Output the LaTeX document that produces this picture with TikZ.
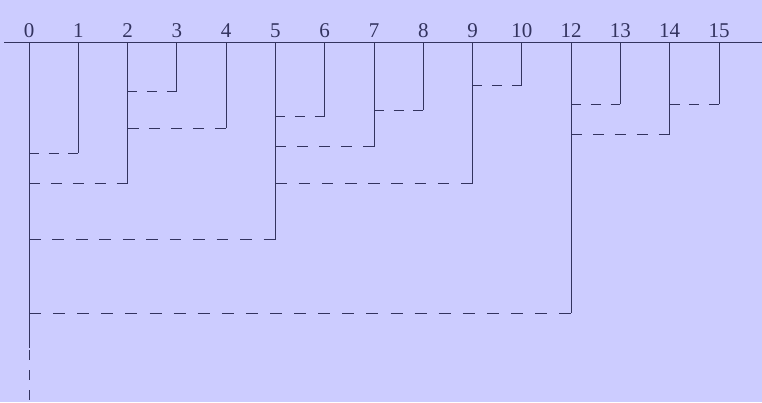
\documentclass[tikz,border=0pt]{standalone}
\usepackage{fontspec}
\setmainfont{Liberation Serif}
\definecolor{bg}{HTML}{CCCCFF}
\definecolor{ink}{HTML}{33335F}
\begin{document}
\begin{tikzpicture}[x=1pt,y=-1pt,line width=1pt,draw=ink,
  lab/.style={anchor=base,font=\fontsize{21}{21}\selectfont,text=ink,inner sep=0pt},
  link/.style={dash pattern=on #1 off #1}]
\fill[bg] (0,0) rectangle (762,402);
\useasboundingbox (0,0) rectangle (762,402);
\coordinate (axL) at (4.3,42.7);
\coordinate (axR) at (762,42.7);
\draw (axL) -- (axR);
\foreach \p/\l in {0/0,1/1,2/2,3/3,4/4,5/5,6/6,7/7,8/8,9/9,10/10,11/12,12/13,13/14,14/15} {
  \node[lab] (l\l) at ({29+49.286*\p},37.3) {\l};
  \coordinate (t\l) at ({29+49.286*\p},42.7);
}
\foreach \c/\q/\y/\d in {1/0/153.3/9.86, 2/0/183.3/10.95, 3/2/91.7/9.86, 4/2/128.3/10.95,
  5/0/239.5/11.73, 6/5/116.3/9.86, 7/5/146.7/10.95, 8/7/110/9.86, 9/5/183.3/11.6,
  10/9/85.3/9.86, 12/0/313.3/12.05, 13/12/104/9.86, 14/12/134.7/10.95, 15/14/104/9.86} {
  \path (t\c) ++(0,\y-42.7) coordinate (b\c);
  \path (t\q) ++(0,\y-42.7) coordinate (a\c);
  \draw (t\c) -- (b\c);
  \draw[link=\d] (a\c) -- (b\c);
}
\coordinate (e0) at (29,348.3);
\coordinate (f0) at (29,350);
\coordinate (g0) at (29,400);
\draw (t0) -- (e0);
\draw[link=10] (f0) -- (g0);
\end{tikzpicture}
\end{document}
